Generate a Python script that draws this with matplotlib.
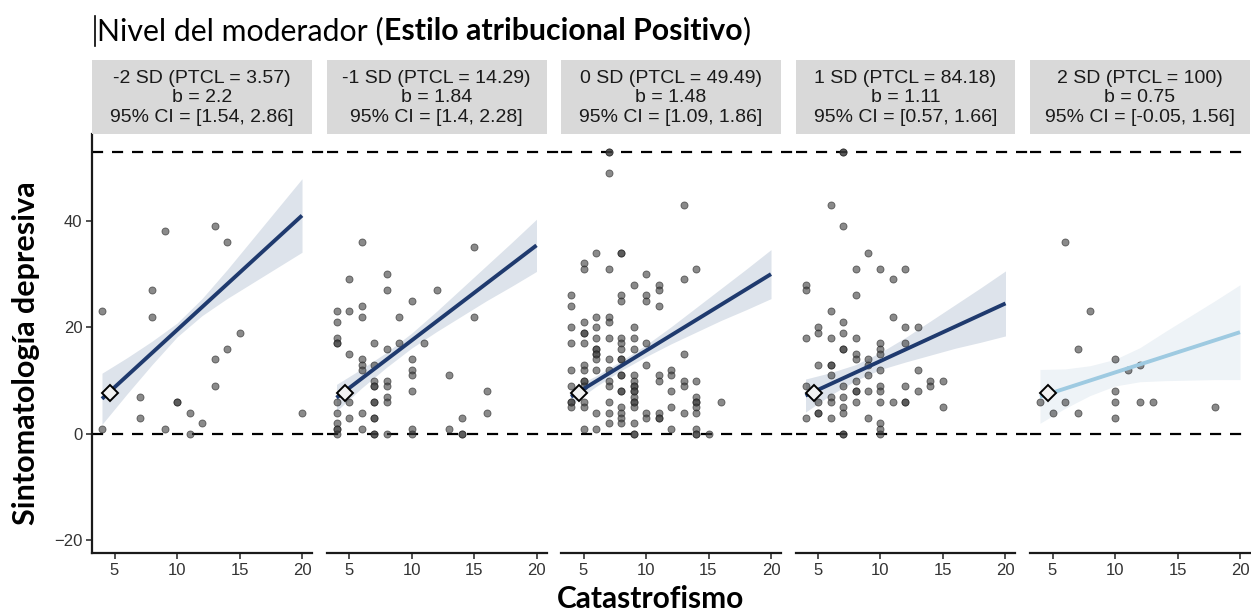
import matplotlib
matplotlib.use("Agg")
import matplotlib.pyplot as plt
from matplotlib.lines import Line2D

# facet labels
sd_labels = ["-2 SD (PTCL = 3.57)", "-1 SD (PTCL = 14.29)", "0 SD (PTCL = 49.49)",
             "1 SD (PTCL = 84.18)", "2 SD (PTCL = 100)"]
b_labels = ["2.2", "1.84", "1.48", "1.11", "0.75"]
ci_labels = ["[1.54, 2.86]", "[1.4, 2.28]", "[1.09, 1.86]", "[0.57, 1.66]", "[-0.05, 1.56]"]

# raw points per panel: catastrofismo -> list of sintomatologia values
pts_m2 = {4: [23, 1], 7: [7, 3], 8: [27, 22], 9: [38, 1], 10: [6, 6], 11: [4, 0],
          12: [2], 13: [39, 14, 9], 14: [36, 16], 15: [19], 20: [4]}
pts_m1 = {4: [23, 21, 18, 17, 17, 6, 4, 2, 1, 1, 0], 5: [29, 23, 15, 6, 3],
          6: [36, 24, 22, 14, 13, 12, 4, 1], 7: [17, 13, 10, 9, 9, 6, 6, 3, 3, 0, 0],
          8: [30, 27, 16, 10, 9, 7, 6, 0], 9: [22, 17], 10: [25, 14, 12, 11, 8, 1, 0],
          11: [17], 12: [27], 13: [11, 1], 14: [3, 0, 0], 15: [35, 22], 16: [8, 4]}
pts_0 = {4: [26, 24, 20, 17, 12, 9, 6, 6, 5],
         5: [32, 31, 21, 19, 19, 17, 13, 12, 10, 10, 9, 6, 5, 1],
         6: [34, 22, 20, 18, 16, 16, 15, 15, 14, 12, 4, 1],
         7: [53, 53, 49, 31, 22, 21, 18, 14, 12, 10, 9, 6, 4, 2],
         8: [34, 34, 26, 25, 18, 17, 16, 14, 14, 11, 11, 8, 8, 5, 4, 3, 2],
         9: [28, 20, 18, 16, 11, 10, 9, 9, 8, 8, 7, 6, 6, 5, 2, 0, 0],
         10: [30, 26, 25, 17, 13, 4, 3], 11: [28, 27, 24, 11, 10, 4, 3, 3],
         12: [12, 11, 8, 5, 1], 13: [43, 29, 15, 10, 9, 4],
         14: [31, 10, 7, 6, 6, 5, 4, 1, 0, 0], 15: [0], 16: [6]}
pts_p1 = {4: [28, 27, 18, 9, 3], 5: [20, 19, 13, 6, 4, 4],
          6: [43, 23, 18, 13, 13, 11, 7, 6, 3],
          7: [53, 53, 39, 21, 19, 16, 16, 9, 7, 5, 4, 0, 0],
          8: [31, 26, 18, 15, 14, 10, 8, 8, 6], 9: [34, 14, 13, 11, 8, 3],
          10: [31, 17, 16, 15, 12, 9, 8, 6, 2, 1, 0], 11: [29, 22, 6],
          12: [31, 20, 17, 9, 6, 6], 13: [20, 12, 8], 14: [10, 9], 15: [10, 5]}
pts_p2 = {4: [6], 5: [4], 6: [36, 6], 7: [16, 4], 8: [23], 10: [14, 8, 6, 3],
          11: [12], 12: [13, 6], 13: [6], 18: [5]}
panel_pts = [pts_m2, pts_m1, pts_0, pts_p1, pts_p2]

# fitted simple slopes
line_x = [4, 20]
line_y0 = [6.6, 6.8, 7.0, 7.2, 7.0]
line_y1 = [41.0, 35.4, 30.0, 24.5, 19.1]

# confidence bands
band_x = [4, 6, 8, 10, 12, 14, 16, 18, 20]
band_lo = [[1.8, 7.5, 13.0, 18.2, 22.2, 25.4, 28.3, 31.2, 34.1],
           [4.3, 8.6, 12.5, 16.1, 19.2, 22.1, 25.0, 27.7, 30.5],
           [5.5, 8.9, 11.9, 14.5, 16.9, 19.1, 21.3, 23.3, 25.4],
           [4.1, 7.3, 10.0, 12.1, 13.5, 14.8, 16.1, 17.2, 18.4],
           [2.0, 4.8, 7.2, 9.0, 9.8, 10.0, 10.1, 10.2, 10.2]]
band_hi = [[11.4, 14.3, 17.4, 20.8, 25.4, 30.8, 36.5, 42.2, 47.9],
           [9.3, 12.2, 15.3, 18.9, 23.0, 27.3, 31.6, 35.9, 40.3],
           [8.5, 10.9, 13.7, 16.7, 20.1, 23.7, 27.3, 30.9, 34.6],
           [10.3, 11.5, 13.0, 15.3, 18.1, 21.2, 24.3, 27.4, 30.6],
           [12.1, 12.2, 12.8, 14.0, 16.2, 19.2, 22.1, 25.0, 28.0]]

mean_pt = (4.65, 7.7)
hlines = [0, 53]

line_cols = ["#1f3a6e"] * 4 + ["#9ecae1"]
band_cols = ["#dde3eb"] * 4 + ["#eef3f7"]

W, H = 1251, 612
fig = plt.figure(figsize=(W / 100, H / 100), dpi=100)

lefts = [92, 326.5, 561, 795.5, 1030]
pw = 220
top, bot, strip_top = 134, 553, 60
tick_font = "Liberation Sans"

for i in range(5):
    ax = fig.add_axes([lefts[i] / W, 1 - bot / H, pw / W, (bot - top) / H])
    ax.set_xlim(3.2, 20.8)
    ax.set_ylim(-22.35, 56.3)

    # dashed reference lines run across the gaps between panels
    xmax = 1 + (lefts[i + 1] - lefts[i] - pw) / pw if i < 4 else 1
    for h in hlines:
        ax.axhline(h, xmin=0, xmax=xmax, color="black", lw=1.6,
                   ls=(0, (5, 4)), clip_on=False, zorder=1)

    ax.fill_between(band_x, band_lo[i], band_hi[i], color=band_cols[i], lw=0, zorder=2)

    xs, ys = [], []
    for k, v in panel_pts[i].items():
        xs += [k] * len(v)
        ys += v
    ax.scatter(xs, ys, s=26, c="#3c3c3c", alpha=0.6, edgecolors="#1e1e1e",
               linewidths=0.6, zorder=3, clip_on=False)

    ax.plot(line_x, [line_y0[i], line_y1[i]], color=line_cols[i], lw=2.8,
            solid_capstyle="butt", zorder=4)
    ax.plot(*mean_pt, marker="D", ms=8, mfc="#f2f2f2", mec="black", mew=1.4, zorder=5)

    for s in ["top", "right"]:
        ax.spines[s].set_visible(False)
    ax.spines["bottom"].set_linewidth(1.6)
    ax.spines["bottom"].set_color("#1a1a1a")
    ax.set_xticks([5, 10, 15, 20])
    ax.tick_params(axis="x", length=4, width=1.2, color="#333333", labelsize=12,
                   labelcolor="#333333", pad=3)
    for lab in ax.get_xticklabels():
        lab.set_fontfamily(tick_font)
    if i == 0:
        ax.spines["left"].set_linewidth(1.6)
        ax.spines["left"].set_color("#1a1a1a")
        ax.set_yticks([-20, 0, 20, 40])
        ax.tick_params(axis="y", length=4, width=1.2, color="#333333", labelsize=12,
                       labelcolor="#333333", pad=3)
        for lab in ax.get_yticklabels():
            lab.set_fontfamily(tick_font)
    else:
        ax.spines["left"].set_visible(False)
        ax.set_yticks([])
    ax.patch.set_alpha(0)

    # facet strip
    sax = fig.add_axes([lefts[i] / W, 1 - top / H, pw / W, (top - strip_top) / H])
    sax.set_facecolor("#d9d9d9")
    for s in sax.spines.values():
        s.set_visible(False)
    sax.set_xticks([])
    sax.set_yticks([])
    txt = sd_labels[i] + "\nb = " + b_labels[i] + "\n95% CI = " + ci_labels[i]
    sax.text(0.5, 0.49, txt, ha="center", va="center", multialignment="center",
             fontsize=14, family=tick_font, color="#1a1a1a", linespacing=1.18,
             transform=sax.transAxes)

# title in two weights
renderer = fig.canvas.get_renderer()
base_y = 1 - 40 / H
x0 = 97 / W
parts = [("Nivel del moderador (", "normal"), ("Estilo atribucional Positivo", "bold"), (")", "normal")]
for s, w in parts:
    t = fig.text(x0, base_y, s, fontsize=21.8, family="Lato", weight=w,
                 va="baseline", ha="left", color="black")
    bb = t.get_window_extent(renderer=renderer)
    x0 = bb.x1 / W
fig.add_artist(Line2D([95 / W, 95 / W], [1 - 46 / H, 1 - 16 / H], color="black", lw=1.2))

fig.text(26 / W, 1 - 353 / H, "Sintomatología depresiva", rotation=90, ha="center",
         va="center", fontsize=22, family="Lato", weight="bold")
fig.text(651 / W, 1 - 599 / H, "Catastrofismo", ha="center", va="center",
         fontsize=21.5, family="Lato", weight="bold")

fig.savefig("out.png", dpi=100)
